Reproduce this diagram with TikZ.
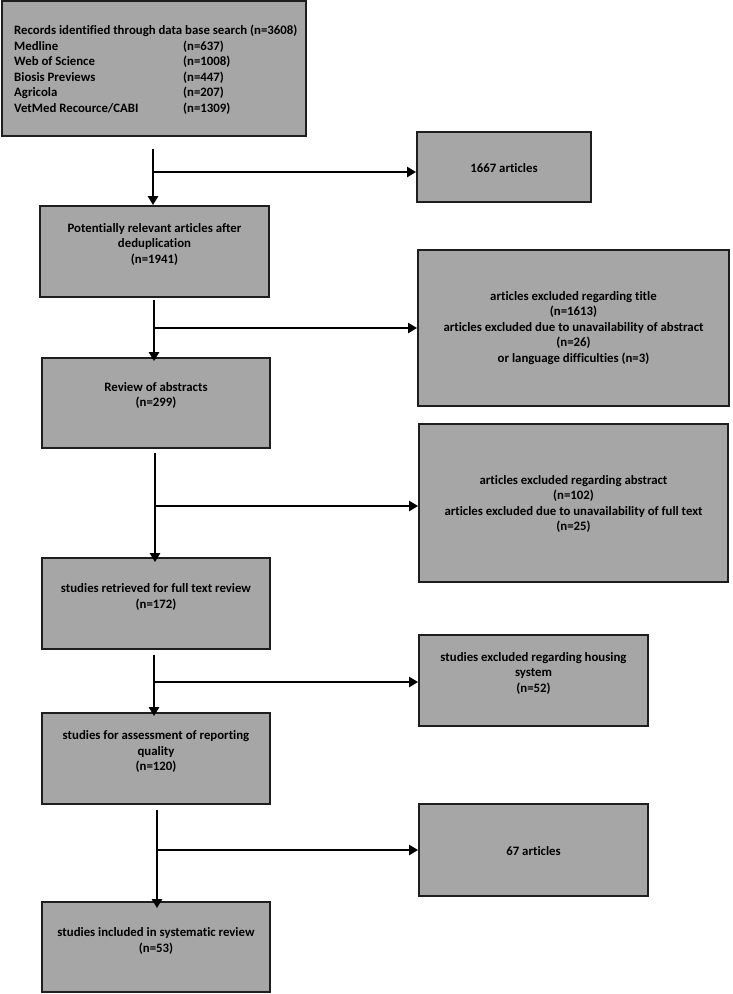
\documentclass[tikz,border=0pt]{standalone}
\usepackage{fontspec}
\setmainfont[Ligatures=NoCommon]{Carlito}
\usetikzlibrary{arrows.meta,calc}
\definecolor{boxfill}{HTML}{A6A6A6}
\definecolor{boxline}{HTML}{1E1E1E}
\tikzset{
  box/.style={draw=boxline, line width=1.8pt, fill=boxfill, inner sep=0pt},
  txt/.style={font={\fontsize{12.8}{15.5}\selectfont\bfseries}, align=center, inner sep=0pt, text=black},
  arr/.style={line width=2.6pt, -{Triangle[length=9pt,width=10pt]}},
  ln/.style={line width=2.6pt}
}
\begin{document}
\begin{tikzpicture}[x=1pt,y=-1pt]
\useasboundingbox (0,0) rectangle (732,994);
% boxes
\node[box, minimum width=304pt, minimum height=135pt] (b1) at (154,68.5) {};
\node[txt, anchor=west, align=left] (t1) at (14,70.5) {%
\begin{tabular}{@{}p{169pt}@{}l@{}}
\multicolumn{2}{@{}l@{}}{Records identified through data base search (n=3608)}\\
Medline & (n=637)\\
Web of Science & (n=1008)\\
Biosis Previews & (n=447)\\
Agricola & (n=207)\\
VetMed Recource/CABI & (n=1309)
\end{tabular}};
\node[box, minimum width=174pt, minimum height=70pt] (r1) at (504,167) {};
\node[txt] (tr1) at (504,168) {1667 articles};

\node[box, minimum width=229pt, minimum height=91pt] (b2) at (154.5,251.5) {};
\node[txt] (t2) at (154.5,244) {Potentially relevant articles after\\deduplication\\(n=1941)};

\node[box, minimum width=311pt, minimum height=156pt] (r2) at (573.5,328) {};
\node[txt] (tr2) at (573.5,328) {articles excluded regarding title\\(n=1613)\\articles excluded due to unavailability of abstract\\(n=26)\\or language difficulties (n=3)};

\node[box, minimum width=228pt, minimum height=90pt] (b3) at (156,403) {};
\node[txt] (t3) at (156,395.5) {Review of abstracts\\(n=299)};

\node[box, minimum width=309pt, minimum height=158pt] (r3) at (573.5,503) {};
\node[txt] (tr3) at (573.5,504) {articles excluded regarding abstract\\(n=102)\\articles excluded due to unavailability of full text\\(n=25)};

\node[box, minimum width=228pt, minimum height=91pt] (b4) at (156,603.5) {};
\node[txt] (t4) at (156,597) {studies retrieved for full text review\\(n=172)};

\node[box, minimum width=229pt, minimum height=91pt] (r4) at (533.5,680.5) {};
\node[txt] (tr4) at (533.5,673) {studies excluded regarding housing\\system\\(n=52)};

\node[box, minimum width=228pt, minimum height=91pt] (b5) at (156,758.5) {};
\node[txt] (t5) at (156,751.5) {studies for assessment of reporting\\quality\\(n=120)};

\node[box, minimum width=229pt, minimum height=92pt] (r5) at (533.5,850) {};
\node[txt] (tr5) at (533.5,851) {67 articles};

\node[box, minimum width=228pt, minimum height=90pt] (b6) at (156,947) {};
\node[txt] (t6) at (156,941) {studies included in systematic review\\(n=53)};

% connectors
\coordinate (s1) at (153,149); \coordinate (e1) at (153,204); \coordinate (j1) at (153,172);
\draw[arr] (s1) -- (e1 |- b2.north);
\draw[arr] (j1) -- (j1 -| r1.west);

\coordinate (s2) at (154,300); \coordinate (j2) at (154,328);
\draw[arr] (s2) -- ([yshift=-4pt]s2 |- b3.north);
\draw[arr] (j2) -- (j2 -| r2.west);

\coordinate (s3) at (155,453); \coordinate (j3) at (155,506);
\draw[arr] (s3) -- ([yshift=-5pt]s3 |- b4.north);
\draw[arr] (j3) -- (j3 -| r3.west);

\coordinate (s4) at (154,655); \coordinate (j4) at (154,682);
\draw[arr] (s4) -- ([yshift=-4pt]s4 |- b5.north);
\draw[arr] (j4) -- (j4 -| r4.west);

\coordinate (s5) at (157,810); \coordinate (j5) at (157,850);
\draw[arr] (s5) -- ([yshift=-7pt]s5 |- b6.north);
\draw[arr] (j5) -- (j5 -| r5.west);
\end{tikzpicture}
\end{document}
